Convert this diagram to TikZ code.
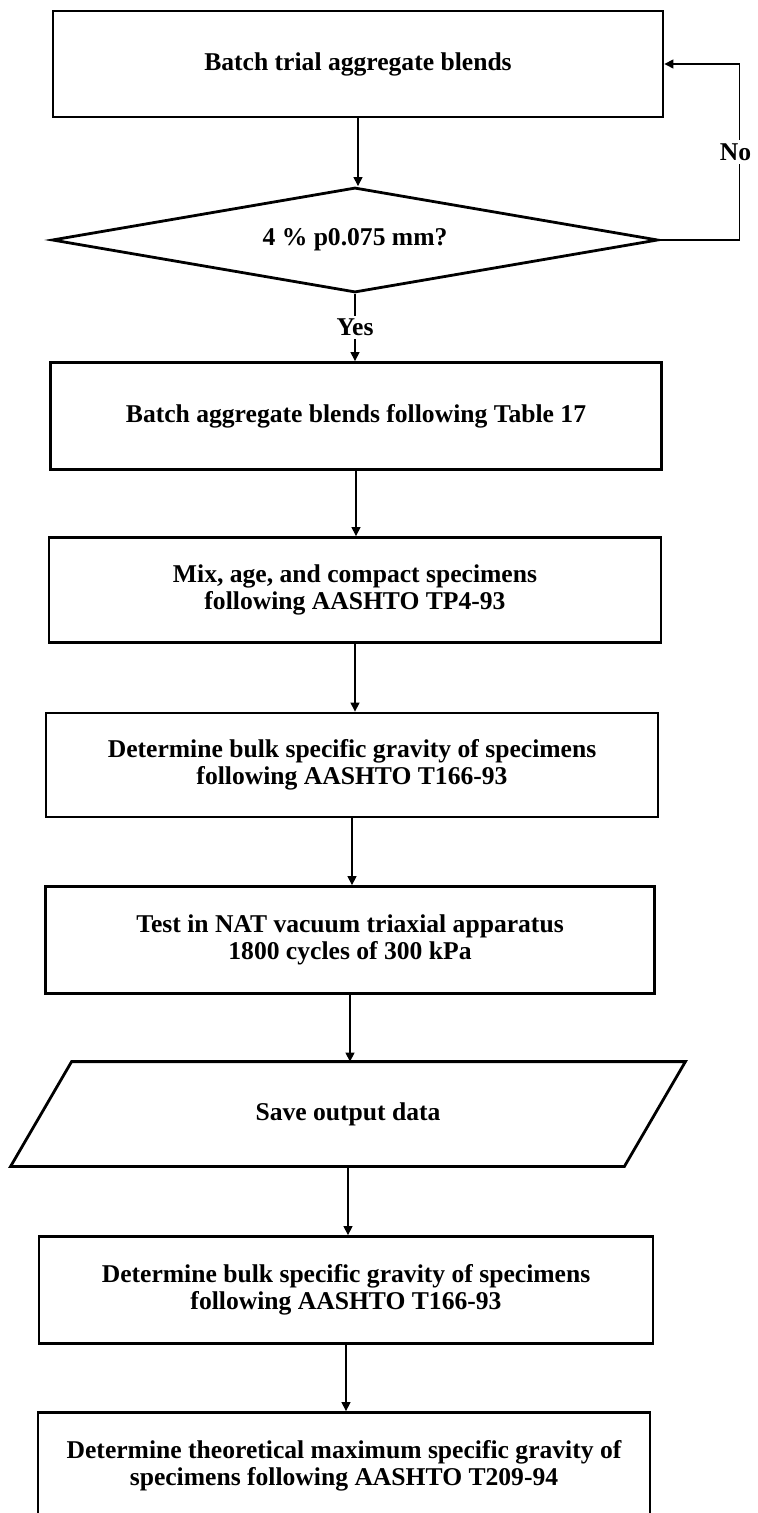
\documentclass[tikz,border=0pt]{standalone}
\usepackage{fontspec}
\setmainfont{Liberation Serif}
\usetikzlibrary{shapes.geometric,arrows.meta}

\tikzset{
  step_box/.style={rectangle,draw,line width=1.4pt,inner sep=0pt,align=center},
  test_dia/.style={diamond,aspect=6,draw,line width=1.4pt,inner sep=0pt},
  data_io/.style={rectangle,inner sep=0pt,align=center},
  flow_lbl/.style={fill=white,inner sep=1.5pt},
}

\begin{document}
\begin{tikzpicture}[
  x=0.5pt, y=-0.5pt,
  every node/.style={font=\bfseries\fontsize{12.8}{13.5}\selectfont},
  flow line/.style={line width=0.6pt,-{Triangle[length=4.5pt,width=4.5pt]}},
  ]
  \useasboundingbox (0,0) rectangle (758,1513);

  \node[step_box,minimum width=305pt,minimum height=53pt] (trial) at (358,64)
       {Batch trial aggregate blends};
  \node[test_dia,minimum width=303pt,minimum height=52.5pt] (check) at (355,240)
       {4 \% p0.075 mm?};
  \node[step_box,minimum width=305.5pt,minimum height=53.5pt] (blend) at (356,416)
       {Batch aggregate blends following Table 17};
  \node[step_box,minimum width=306pt,minimum height=52.5pt] (mix) at (355,590)
       {Mix, age, and compact specimens\\following AASHTO TP4-93};
  \node[step_box,minimum width=306pt,minimum height=52pt] (bulk) at (352,765)
       {Determine bulk specific gravity of specimens\\following AASHTO T166-93};
  \node[step_box,minimum width=304.5pt,minimum height=53.5pt] (nat) at (350,940)
       {Test in NAT vacuum triaxial apparatus\\1800 cycles of 300 kPa};
  \node[data_io,minimum width=306.5pt,minimum height=52pt] (save) at (348,1114)
       {Save output data};
  \node[step_box,minimum width=307pt,minimum height=53.5pt] (bulkb) at (346,1290)
       {Determine bulk specific gravity of specimens\\following AASHTO T166-93};
  \node[step_box,minimum width=306pt,minimum height=53.5pt] (tmax) at (344,1466)
       {Determine theoretical maximum specific gravity of\\specimens following AASHTO T209-94};

  % slanted data box
  \draw[line width=1.4pt,line join=miter]
       ([xshift=15.25pt]save.north west) -- ([xshift=15.25pt]save.north east)
    -- ([xshift=-15.25pt]save.south east) -- ([xshift=-15.25pt]save.south west) -- cycle;

  \foreach \a/\b in {trial/check, blend/mix, mix/bulk, bulk/nat, nat/save, save/bulkb, bulkb/tmax}{
    \draw[flow line] (\a.south) -- (\a.south |- \b.north);
  }

  \draw[flow line] (check.south) -- node[flow_lbl] {Yes} (check.south |- blend.north);
  \draw[flow line] (check.east) -- ++(80,0) |- node[flow_lbl,pos=0.25,xshift=-2pt] {No} (trial.east);

\end{tikzpicture}
\end{document}
